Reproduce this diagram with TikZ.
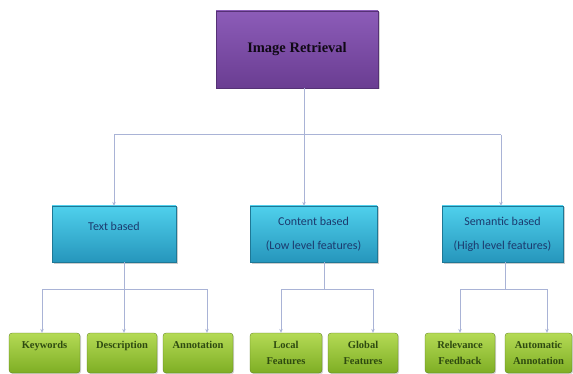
\documentclass[tikz,border=0pt]{standalone}
\usepackage{fontspec}
\setmainfont{Liberation Serif}
\newfontfamily\carl{Carlito}
\usetikzlibrary{shadows,arrows.meta}
\definecolor{conn}{HTML}{A9B3D6}
\definecolor{purpT}{HTML}{8C5CB8}
\definecolor{purpB}{HTML}{6A3D92}
\definecolor{cyanT}{HTML}{4FD0EC}
\definecolor{cyanB}{HTML}{2696BC}
\definecolor{grnT}{HTML}{B4DA55}
\definecolor{grnB}{HTML}{7EAE24}
\definecolor{navy}{HTML}{1C3A6E}
\definecolor{dkgrn}{HTML}{2E4A10}
\tikzset{
  topbox/.style={draw=purpB!80!black, line width=0.4pt, top color=purpT, bottom color=purpB,
     minimum width=162pt, minimum height=77pt, inner sep=0pt,
     font=\bfseries\fontsize{14.5}{16}\selectfont, text=black!85!purpB,
     drop shadow={shadow xshift=1.5pt, shadow yshift=-1.5pt, opacity=0.35}},
  midbox/.style={draw=cyanB!80!black, line width=0.3pt, top color=cyanT, bottom color=cyanB,
     minimum height=56pt, inner sep=0pt, align=center,
     font=\carl\fontsize{12}{24}\selectfont, text=navy,
     drop shadow={shadow xshift=1.5pt, shadow yshift=-1.5pt, opacity=0.4}},
  leafbox/.style={draw=grnB!70!black, line width=0.3pt, top color=grnT, bottom color=grnB,
     rounded corners=3pt, minimum height=40pt, inner sep=0pt, align=center,
     font=\bfseries\fontsize{10.5}{16.5}\selectfont, text=dkgrn,
     drop shadow={shadow xshift=1.2pt, shadow yshift=-1.2pt, opacity=0.35}},
  link/.style={draw=conn, line width=1pt},
  arr/.style={link, -{Stealth[length=4pt,width=3.5pt]}}
}
\begin{document}
\begin{tikzpicture}[x=1pt,y=-1pt]
\useasboundingbox (0,0) rectangle (573,374);
% top
\node[topbox] (top) at (297,49.5) {Image Retrieval};
% middle
\node[midbox, minimum width=124pt] (text) at (114,234) {Text based\\[-8pt]\mbox{}};
\node[midbox, minimum width=127pt] (content) at (313.5,234) {Content based\\(Low level features)};
\node[midbox, minimum width=121pt] (semantic) at (502.5,234) {Semantic based\\(High level features)};
% leaves
\node[leafbox, minimum width=71pt] (kw) at (44.5,353) {Keywords\\\mbox{}};
\node[leafbox, minimum width=70pt] (desc) at (122,353) {Description\\\mbox{}};
\node[leafbox, minimum width=70pt] (ann) at (198,353) {Annotation\\\mbox{}};
\node[leafbox, minimum width=72pt] (loc) at (286,353) {Local\\Features};
\node[leafbox, minimum width=70pt] (glob) at (363,353) {Global\\Features};
\node[leafbox, minimum width=70pt] (rel) at (460,353) {Relevance\\Feedback};
\node[leafbox, minimum width=67pt] (auto) at (538.5,353) {Automatic\\Annotation};
% main connectors
\coordinate (j1) at (304,135);
\coordinate (hL) at (114,135);
\coordinate (hR) at (501,135);
\draw[link] (top.south -| j1) -- (j1);
\draw[link] (hL) -- (hR);
\draw[arr] (hL) -- (text.north -| hL);
\draw[arr] (j1) -- (content.north -| j1);
\draw[arr] (hR) -- (semantic.north -| hR);
% text based branch
\coordinate (t1) at (124,289);
\coordinate (tL) at (42,289);
\coordinate (tR) at (207,289);
\draw[link] (text.south -| t1) -- (t1);
\draw[link] (tL) -- (tR);
\draw[arr] (tL) -- (kw.north -| tL);
\draw[arr] (t1) -- (desc.north -| t1);
\draw[arr] (tR) -- (ann.north -| tR);
% content branch
\coordinate (c1) at (324,289);
\coordinate (cL) at (281,289);
\coordinate (cR) at (373,289);
\draw[link] (content.south -| c1) -- (c1);
\draw[link] (cL) -- (cR);
\draw[arr] (cL) -- (loc.north -| cL);
\draw[arr] (cR) -- (glob.north -| cR);
% semantic branch
\coordinate (s1) at (505,289);
\coordinate (sL) at (460,289);
\coordinate (sR) at (547,289);
\draw[link] (semantic.south -| s1) -- (s1);
\draw[link] (sL) -- (sR);
\draw[arr] (sL) -- (rel.north -| sL);
\draw[arr] (sR) -- (auto.north -| sR);
\end{tikzpicture}
\end{document}
